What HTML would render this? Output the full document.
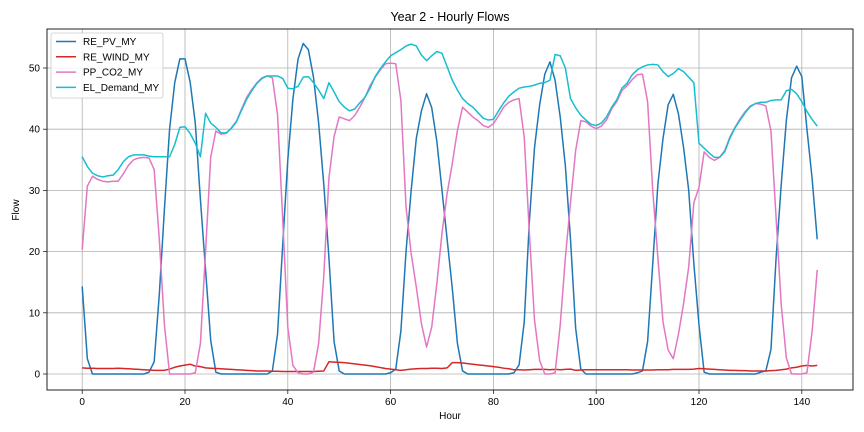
<!DOCTYPE html>
<html><head><meta charset="utf-8"><style>
body{margin:0;background:#fff;}
svg{display:block;font-family:"Liberation Sans","DejaVu Sans",sans-serif;}
</style></head><body>
<svg id="chart" width="864" height="432" viewBox="0 0 864 432">
<rect x="0" y="0" width="864" height="432" fill="#fff"/>
<text x="450" y="21" text-anchor="middle" font-size="12.5" fill="#000">Year 2 - Hourly Flows</text>
<g id="grid"></g>
<g id="series"></g>
<rect x="47" y="29" width="806" height="361" fill="none" stroke="#222" stroke-width="1"/>
<g id="ticks"></g>
<text x="450" y="419" text-anchor="middle" font-size="10">Hour</text>
<text x="19" y="210" text-anchor="middle" font-size="10" transform="rotate(-90 19 210)">Flow</text>
<g id="legend"></g>
</svg>
<script>
const seriesNames = ["RE_PV_MY","RE_WIND_MY","PP_CO2_MY","EL_Demand_MY"];
const seriesColors = ["#1f77b4","#d62728","#e377c2","#17becf"];
const xTicks = [0,20,40,60,80,100,120,140];
const yTicks = [0,10,20,30,40,50];
const pv = [14.3,2.5,0,0,0,0,0,0,0,0,0,0,0,0.3,2,13,27,40,47.6,51.5,51.5,47.7,41,28.5,17,5.5,0.3,0,0,0,0,0,0,0,0,0,0,0.5,6.5,21,35,45,51.5,54,53,48.5,41,31,19,5.3,0.5,0,0,0,0,0,0,0,0,0,0.2,0.8,7,20,30,38.5,43,45.8,43.5,38,30,22,14,5,0.5,0,0,0,0,0,0,0,0,0,0.2,1.5,8.5,25,37,44,49,51,48,42,34,22,7.5,0.8,0,0,0,0,0,0,0,0,0,0,0.2,0.5,5.3,18,31,38.5,44,45.7,42.5,37,30,18,8,0.3,0,0,0,0,0,0,0,0,0,0,0.3,0.5,4,19,31,41.5,48.4,50.3,48.6,40,32,22];
const wind = [1.0,0.95,0.95,0.9,0.9,0.9,0.9,0.95,0.9,0.85,0.8,0.75,0.7,0.65,0.6,0.6,0.6,0.8,1.1,1.3,1.45,1.6,1.3,1.2,1.0,0.95,0.9,0.85,0.8,0.75,0.7,0.65,0.6,0.55,0.5,0.5,0.5,0.45,0.45,0.4,0.4,0.4,0.4,0.4,0.4,0.4,0.45,0.5,2.0,1.95,1.9,1.85,1.75,1.65,1.55,1.45,1.35,1.2,1.05,0.9,0.8,0.7,0.6,0.7,0.8,0.85,0.9,0.9,0.95,0.95,0.9,1.0,1.85,1.85,1.8,1.7,1.6,1.5,1.4,1.3,1.2,1.1,0.95,0.85,0.7,0.7,0.65,0.7,0.75,0.75,0.75,0.7,0.75,0.7,0.75,0.8,0.6,0.65,0.7,0.7,0.7,0.7,0.7,0.7,0.7,0.7,0.7,0.65,0.65,0.65,0.65,0.65,0.7,0.7,0.7,0.75,0.75,0.75,0.75,0.8,0.9,0.85,0.8,0.75,0.7,0.65,0.6,0.6,0.55,0.55,0.5,0.5,0.5,0.5,0.55,0.6,0.7,0.8,1.0,1.1,1.3,1.4,1.3,1.4];
const co2 = [20.3,30.7,32.3,31.8,31.5,31.4,31.5,31.5,32.7,34.1,35,35.3,35.4,35.3,33.4,22,8,0,0,0,0,0,0.2,5,20,35.4,39.7,39.2,39.3,40.2,41.3,43.3,45.2,46.5,47.6,48.4,48.7,48.4,42.4,25.5,7.6,1.4,0.2,0,0,0.3,5,16,32,38.8,42,41.7,41.4,42.2,43.6,45.2,47.1,48.5,49.7,50.7,50.8,50.7,44.7,27.3,19.7,14.2,8.2,4.4,7.7,14.8,23,29.5,34.4,39.8,43.6,42.8,42,41.4,40.6,40.3,40.9,42.2,43.6,44.4,44.8,45,38.7,23,8.8,2.2,0,0,0.2,8,19,28,36.5,41.4,41.2,40.5,40.1,40.5,41.5,43.3,44.5,46.3,47.1,48.1,48.9,49,44.5,30,19,8.5,3.9,2.5,6.5,11.5,17.5,28,30.5,36.3,35.4,34.9,35.4,36.5,38.7,40.3,41.7,42.9,43.8,44.2,44.1,43.8,39.7,25.5,11.3,2.6,0,0,0,0.2,6.9,17];
const demand = [35.5,33.9,32.8,32.4,32.2,32.4,32.5,33.4,34.7,35.5,35.8,35.8,35.8,35.6,35.5,35.5,35.5,35.5,37.5,40.3,40.4,39.3,37.7,35.5,42.6,41,40.3,39.4,39.4,40.1,41.2,43.1,44.9,46.3,47.5,48.3,48.7,48.7,48.7,48.3,46.7,46.6,47,48.5,48.6,47.6,46.4,45,47.6,46.1,44.5,43.6,43,43.3,44.3,45.2,46.7,48.6,49.9,51,52,52.5,53,53.6,53.9,53.6,52.1,51.2,52,52.7,52.4,50.2,48,46.4,45,44.2,43.6,42.7,41.8,41.5,41.6,43,44.3,45.4,46.1,46.7,46.9,47,47.2,47.5,47.6,48,52.2,52,50,45,43.5,42.3,41.5,40.8,40.6,41,42,43.6,44.8,46.7,47.5,48.9,49.7,50.2,50.5,50.6,50.5,49.4,48.6,49.1,49.9,49.4,48.5,47.6,37.7,36.9,36.1,35.4,35.4,36.3,38.5,40.2,41.5,42.7,43.7,44.2,44.4,44.4,44.7,44.8,44.8,46.3,46.5,45.8,44.5,42.9,41.6,40.5];

const NS="http://www.w3.org/2000/svg";
function xS(h){return 82.2+5.14*h;}
function yS(v){return 374-6.12*v;}
function mk(tag,attrs,parent){const e=document.createElementNS(NS,tag);for(const k in attrs)e.setAttribute(k,attrs[k]);parent.appendChild(e);return e;}
const grid=document.getElementById('grid'), ticks=document.getElementById('ticks');
xTicks.forEach(t=>{
  const g=mk('line',{x1:xS(t),x2:xS(t),y1:29,y2:390,stroke:'#b0b0b0','stroke-width':0.8},grid);
  
  
  const tk=mk('line',{x1:xS(t),x2:xS(t),y1:390,y2:394,stroke:'#222','stroke-width':0.8},ticks);
  
  
  const lb=mk('text',{x:xS(t),y:405,'text-anchor':'middle','font-size':10},ticks);
  lb.textContent=t;
  
  
});
yTicks.forEach(t=>{
  const g=mk('line',{x1:47,x2:853,y1:yS(t),y2:yS(t),stroke:'#b0b0b0','stroke-width':0.8},grid);
  
  
  const tk=mk('line',{x1:43,x2:47,y1:yS(t),y2:yS(t),stroke:'#222','stroke-width':0.8},ticks);
  
  
  const lb=mk('text',{x:40,y:yS(t)+3.5,'text-anchor':'end','font-size':10},ticks);
  lb.textContent=t;
  
  
});
const all=[pv,wind,co2,demand];
const sg=document.getElementById('series');
all.forEach((arr,i)=>{
  const pts=arr.map((v,h)=>xS(h).toFixed(2)+','+yS(v).toFixed(2)).join(' ');
  const pl=mk('polyline',{points:pts,fill:'none',stroke:seriesColors[i],'stroke-width':1.5,'stroke-linejoin':'round'},sg);
  
  
});
const lg=document.getElementById('legend');
const box=mk('rect',{x:51,y:33,width:112,height:65,rx:2,fill:'#fff','fill-opacity':0.85,stroke:'#ccc','stroke-width':0.8},lg);


seriesNames.forEach((n,i)=>{
  const y=41.5+15.3*i;
  const ln=mk('line',{x1:56,x2:76,y1:y,y2:y,stroke:seriesColors[i],'stroke-width':1.5},lg);
  
  
  const tx=mk('text',{x:83,y:y+3.5,'font-size':10},lg);
  tx.textContent=n;
  
  
});
</script>
</body></html>
